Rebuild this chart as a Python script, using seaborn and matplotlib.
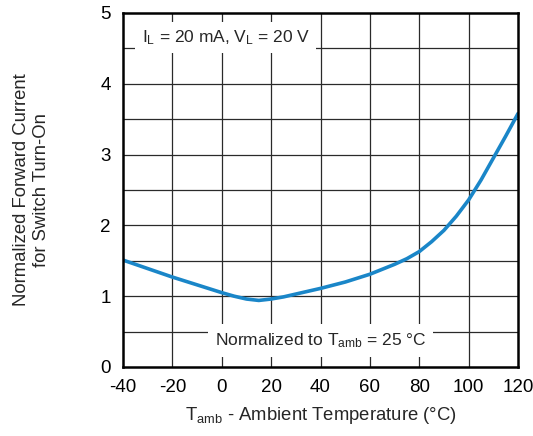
import matplotlib
matplotlib.use("Agg")
import matplotlib.pyplot as plt
import seaborn as sns
import pandas as pd

# Ambient temperature (°C) and normalized forward current for switch turn-on
temperature = [-40, -30, -20, -10, 0, 5, 10, 15, 20, 25, 30, 40, 50, 60,
               70, 75, 80, 85, 90, 95, 100, 105, 110, 115, 120]
normalized_current = [1.51, 1.39, 1.27, 1.16, 1.05, 1.00, 0.96, 0.94, 0.96, 0.99,
                      1.03, 1.11, 1.20, 1.31, 1.45, 1.53, 1.63, 1.77, 1.93, 2.13,
                      2.36, 2.64, 2.95, 3.26, 3.58]

x_ticks = [-40, -20, 0, 20, 40, 60, 80, 100, 120]
y_ticks = [0, 1, 2, 3, 4, 5]

sns.set_theme(style="white")
plt.rcParams["font.family"] = ["Liberation Sans", "DejaVu Sans"]
plt.rcParams["mathtext.default"] = "regular"
plt.rcParams["axes.unicode_minus"] = False

df = pd.DataFrame({"T": temperature, "I": normalized_current})

fig = plt.figure(figsize=(5.33, 4.36), dpi=100)
ax = fig.add_axes([0.2308, 0.1583, 0.9719 - 0.2308, 0.9702 - 0.1583])

# grid every 20 °C and every 0.5 units
for xv in range(-20, 120, 20):
    ax.axvline(xv, color="#2a2a2a", lw=0.9, zorder=1)
for k in range(1, 10):
    ax.axhline(k * 0.5, color="#2a2a2a", lw=0.9, zorder=1)

sns.lineplot(data=df, x="T", y="I", ax=ax, color="#1a86c8", lw=2.6, zorder=3)

ax.set_xlim(-40, 120)
ax.set_ylim(0, 5)
ax.set_xticks(x_ticks)
ax.set_yticks(y_ticks)
ax.tick_params(axis="both", labelsize=13.5, length=0, pad=9, colors="black")
for s in ax.spines.values():
    s.set_linewidth(1.8)
    s.set_color("black")
    s.set_zorder(5)

ax.set_xlabel("T$_{amb}$ - Ambient Temperature (°C)", fontsize=13.3, labelpad=6)
ax.set_ylabel("Normalized Forward Current\nfor Switch Turn-On", fontsize=13.3,
              labelpad=36, linespacing=1.25)

ax.text(-32.5, 4.65, "I$_L$ = 20 mA, V$_L$ = 20 V", fontsize=12.5, va="center",
        ha="left", zorder=4,
        bbox=dict(facecolor="white", edgecolor="none", pad=4.5))
ax.text(40, 0.37, "Normalized to T$_{amb}$ = 25 °C", fontsize=12.5, va="center",
        ha="center", zorder=4,
        bbox=dict(facecolor="white", edgecolor="none", pad=5))

fig.savefig("out.png", dpi=100)
